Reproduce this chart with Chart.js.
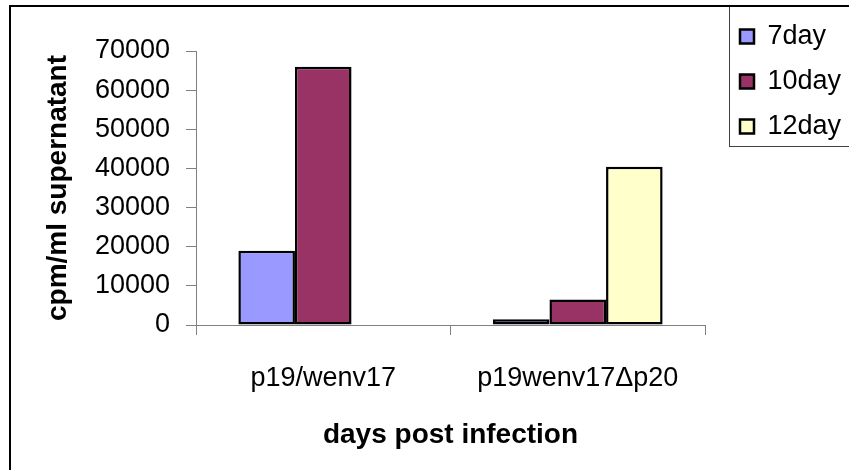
<!DOCTYPE html>
<html>
<head>
<meta charset="utf-8">
<title>cpm/ml supernatant</title>
<script src="https://cdn.jsdelivr.net/npm/chart.js@4/dist/chart.umd.min.js"></script>
<style>
  body { margin: 0; background: #fff; }
  #wrap { width: 849px; height: 470px; }
</style>
</head>
<body>
<div id="wrap"><canvas id="my-chart" width="849" height="470"></canvas></div>
<script>
// data
var categories = ['p19/wenv17', 'p19wenv17\u0394p20'];
var seriesNames = ['7day', '10day', '12day'];
var day7 = [19000, 1500];
var day10 = [66000, 6500];
var day12 = [null, 40400];
var yTickValues = [0, 10000, 20000, 30000, 40000, 50000, 60000, 70000];

var seriesColors = ['#9999FF', '#993366', '#FFFFCC'];
var fontFamily = '"Liberation Sans", Arial, sans-serif';

// frame round the whole chart + box round the legend
var framePlugin = {
    id: 'frame',
    afterLayout: function(chart) {
        // legend sits in the top right corner, not beside the plot
        var lg = chart.legend;
        lg.left = 722;
        lg.right = lg.left + lg.width;
        lg.top = 5;
        lg.bottom = lg.top + lg.height;
    },
    beforeDraw: function(chart) {
        var ctx = chart.ctx;
        ctx.save();
        ctx.fillStyle = '#fff';
        ctx.fillRect(0, 0, chart.width, chart.height);
        ctx.restore();
    },
    afterDraw: function(chart) {
        var ctx = chart.ctx;
        ctx.save();
        ctx.strokeStyle = '#404040';
        ctx.lineWidth = 1;
        ctx.strokeRect(729.5, 6, 200, 140.5);
        ctx.strokeStyle = '#000';
        ctx.lineWidth = 2;
        ctx.strokeRect(10, 6, 900, 900);
        ctx.restore();
    }
};

var datasets = [day7, day10, day12].map(function(vals, i) {
    return {
        label: seriesNames[i],
        data: vals,
        backgroundColor: seriesColors[i],
        borderColor: '#000',
        borderWidth: 2.5,
        borderSkipped: false,
        categoryPercentage: 0.667,
        barPercentage: 1.0
    };
});

var ctx = document.getElementById('my-chart').getContext('2d');
var chart = new Chart(ctx, {
    type: 'bar',
    data: {
        labels: categories,
        datasets: datasets
    },
    plugins: [framePlugin],
    options: {
        responsive: false,
        devicePixelRatio: 1,
        animation: false,
        layout: {
            padding: { left: 0, top: 51, right: 15, bottom: 0 }
        },
        plugins: {
            tooltip: { enabled: false },
            legend: {
                position: 'right',
                align: 'start',
                maxWidth: 129,
                labels: {
                    color: '#000',
                    boxWidth: 14,
                    boxHeight: 14,
                    padding: 18,
                    font: { family: fontFamily, size: 27 }
                }
            }
        },
        scales: {
            x: {
                offset: true,
                afterFit: function(scale) { scale.height = 145; },
                grid: {
                    offset: true,
                    drawOnChartArea: false,
                    drawTicks: true,
                    tickLength: 10,
                    tickColor: '#808080'
                },
                border: { display: true, color: '#808080', width: 1 },
                ticks: {
                    color: '#000',
                    padding: 27,
                    maxRotation: 0,
                    font: { family: fontFamily, size: 27 }
                },
                title: {
                    display: true,
                    text: 'days post infection',
                    color: '#000',
                    padding: { top: 0, bottom: 18 },
                    font: { family: fontFamily, size: 28, weight: 'bold' }
                }
            },
            y: {
                min: 0,
                max: 70000,
                afterFit: function(scale) { scale.width = 196; },
                afterBuildTicks: function(scale) {
                    scale.ticks = yTickValues.map(function(v) { return { value: v }; });
                },
                grid: {
                    drawOnChartArea: false,
                    drawTicks: true,
                    tickLength: 10,
                    tickColor: '#808080'
                },
                border: { display: true, color: '#808080', width: 1 },
                ticks: {
                    color: '#000',
                    padding: 16,
                    font: { family: fontFamily, size: 27 },
                    callback: function(value) { return String(value); }
                },
                title: {
                    display: true,
                    text: 'cpm/ml supernatant',
                    color: '#000',
                    padding: { top: 41, bottom: 0 },
                    font: { family: fontFamily, size: 28, weight: 'bold' }
                }
            }
        }
    }
});
</script>
</body>
</html>
